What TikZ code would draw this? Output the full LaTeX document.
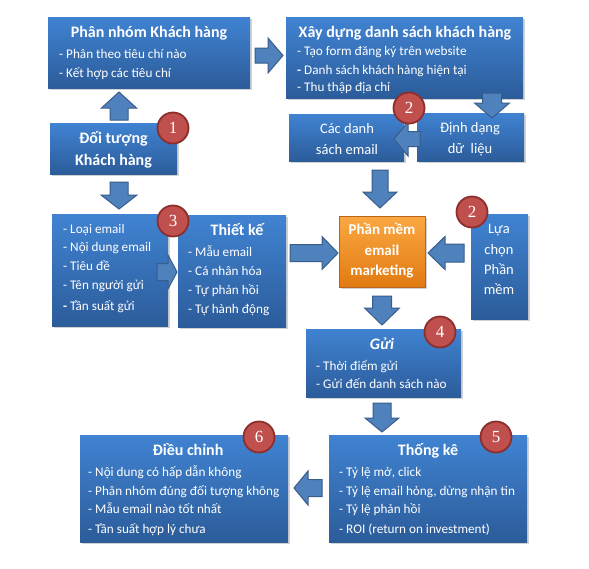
\documentclass[tikz,border=0pt]{standalone}
\usepackage{fontspec}
\setmainfont{Carlito}
\newfontfamily\numfont{Liberation Serif}
\usetikzlibrary{shadows}
\definecolor{boxtop}{HTML}{4083D2}
\definecolor{boxbot}{HTML}{2C5C9A}
\definecolor{ortop}{HTML}{FAA842}
\definecolor{orbot}{HTML}{E27A12}
\definecolor{oredge}{HTML}{B8661C}
\definecolor{arrfill}{HTML}{4F81BD}
\definecolor{arredge}{HTML}{385D8A}
\definecolor{badgefill}{HTML}{C0504D}
\definecolor{badgeedge}{HTML}{8C2E2B}
\newcommand{\blkarrow}[7]{\begin{scope}[shift={(#1,#2)},rotate=#3]\draw[blk] (0,0) -- (-#5,#7) -- (-#5,#6) -- (-#4,#6) -- (-#4,-#6) -- (-#5,-#6) -- (-#5,-#7) -- cycle;\end{scope}}
\tikzset{
 box/.style={rectangle, draw=none, inner sep=0pt, top color=boxtop, bottom color=boxbot,
   drop shadow={shadow xshift=1.5pt, shadow yshift=-2pt, opacity=0.35}},
 obox/.style={rectangle, draw=oredge, line width=0.6pt, inner sep=0pt, top color=ortop, bottom color=orbot,
   drop shadow={shadow xshift=1.5pt, shadow yshift=-2pt, opacity=0.35}},
 blk/.style={fill=arrfill, draw=arredge, line width=1pt, line join=miter},
 badge/.style={circle, minimum size=31pt, inner sep=0pt, fill=badgefill, draw=badgeedge, line width=1.8pt,
   text=white, font=\numfont\fontsize{17}{17}\selectfont},
 txt/.style={text=white, font=\fontsize{13.2}{15}\selectfont, inner sep=0pt, anchor=mid west, yshift=-2.5pt},
 ctxt/.style={text=white, font=\fontsize{14.5}{17}\selectfont, inner sep=0pt, anchor=mid, yshift=-2.5pt},
 ttl/.style={text=white, font=\bfseries\fontsize{16}{19}\selectfont, inner sep=0pt, anchor=mid, yshift=-2.5pt},
 otl/.style={text=white, font=\bfseries\fontsize{15}{18}\selectfont, inner sep=0pt, anchor=mid, yshift=-2.5pt},
}
\begin{document}
\begin{tikzpicture}[x=1pt,y=-1pt]
\fill[white] (0,0) rectangle (589,568);
\useasboundingbox (0,0) rectangle (589,568);
% boxes
\node[box, minimum width=202pt, minimum height=71pt] (b1) at (149,52.5) {};
\node[box, minimum width=237pt, minimum height=81pt] (b2) at (404.5,57.5) {};
\node[box, minimum width=127pt, minimum height=51pt] (b3) at (113.5,148.5) {};
\node[box, minimum width=115pt, minimum height=47pt] (b4) at (346.5,137.5) {};
\node[box, minimum width=107pt, minimum height=48pt] (b5) at (470.5,137) {};
\node[box, minimum width=116pt, minimum height=112pt] (b6) at (110,270) {};
\node[box, minimum width=108pt, minimum height=112pt] (b7) at (232,271) {};
\node[obox, minimum width=86pt, minimum height=71pt] (b8) at (382,251.5) {};
\node[box, minimum width=57pt, minimum height=105pt] (b9) at (499.5,266.5) {};
\node[box, minimum width=155pt, minimum height=68pt] (b10) at (383.5,363) {};
\node[box, minimum width=208pt, minimum height=107pt] (b11) at (184,488.5) {};
\node[box, minimum width=198pt, minimum height=107pt] (b12) at (428,488.5) {};
% texts
\node[ttl] (t1) at (149,33) {Phân nhóm Khách hàng};
\node[txt] (t1a) at (59,54) {- Phân theo tiêu chí nào};
\node[txt] (t1b) at (59,73) {- Kết hợp các tiêu chí};
\node[ttl] (t2) at (405,33) {Xây dựng danh sách khách hàng};
\node[txt] (t2a) at (297,51) {- Tạo form đăng ký trên website};
\node[txt] (t2b) at (297,70) {\textbf{-} Danh sách khách hàng hiện tại};
\node[txt] (t2c) at (297,87) {- Thu thập địa chỉ};
\node[ttl] (t3a) at (113.5,139) {Đối tượng};
\node[ttl] (t3b) at (113.5,161) {Khách hàng};
\node[ctxt] (t4a) at (347,129) {Các danh};
\node[ctxt] (t4b) at (347,150) {sách email};
\node[ctxt] (t5a) at (470,128) {Định dạng};
\node[ctxt] (t5b) at (470,149) {dữ\ \ liệu};
\node[txt] (t6a) at (63,229) {- Loại email};
\node[txt] (t6b) at (63,247) {- Nội dung email};
\node[txt] (t6c) at (63,266) {- Tiêu đề};
\node[txt] (t6d) at (63,285) {- Tên người gửi};
\node[txt] (t6e) at (63,306) {\textbf{-}\ Tần suất gửi};
\node[ttl] (t7) at (237,231) {Thiết kế};
\node[txt] (t7a) at (188,252) {- Mẫu email};
\node[txt] (t7b) at (188,271) {- Cá nhân hóa};
\node[txt] (t7c) at (188,290) {- Tự phản hồi};
\node[txt] (t7d) at (188,309) {- Tự hành động};
\node[otl] (t8a) at (382,230) {Phần mềm};
\node[otl] (t8b) at (382,251) {email};
\node[otl] (t8c) at (382,271) {marketing};
\node[ctxt] (t9a) at (499,229) {Lựa};
\node[ctxt] (t9b) at (499,250) {chọn};
\node[ctxt] (t9c) at (499,270) {Phần};
\node[ctxt] (t9d) at (499,290) {mềm};
\node[ttl, font=\bfseries\itshape\fontsize{16}{19}\selectfont] (t10) at (382,345) {Gửi};
\node[txt] (t10a) at (316,366) {- Thời điểm gửi};
\node[txt] (t10b) at (316,384) {- Gửi đến danh sách nào};
\node[ttl] (t11) at (188,451) {Điều chỉnh};
\node[txt] (t11a) at (88,472) {- Nội dung có hấp dẫn không};
\node[txt] (t11b) at (88,491) {- Phân nhóm đúng đối tượng không};
\node[txt] (t11c) at (88,509) {- Mẫu email nào tốt nhất};
\node[txt] (t11d) at (88,529) {- Tần suất hợp lý chưa};
\node[ttl] (t12) at (428,451) {Thống kê};
\node[txt] (t12a) at (339,472) {- Tỷ lệ mở, click};
\node[txt] (t12b) at (339,491) {- Tỷ lệ email hỏng, dừng nhận tin};
\node[txt] (t12c) at (339,509) {- Tỷ lệ phản hồi};
\node[txt] (t12d) at (339,529) {- ROI (return on investment)};
% block arrows
\blkarrow{283}{55.5}{0}{28}{15}{7.5}{17.5}
\blkarrow{119}{92}{90}{28}{16}{9}{17.5}
\blkarrow{119}{209}{-90}{27}{14}{9}{18}
\blkarrow{492}{118}{-90}{25}{15}{9.5}{17.5}
\blkarrow{394}{139}{180}{26}{14}{7.5}{17}
\blkarrow{380}{208}{-90}{38}{16}{8}{17}
\blkarrow{338}{253}{0}{48}{16}{8.5}{16.5}
\blkarrow{428}{253}{180}{36}{17}{9}{16.5}
\blkarrow{177}{272}{0}{20}{9}{8.5}{17}
\blkarrow{382}{325}{-90}{29}{17}{9.5}{17.5}
\blkarrow{382}{432}{-90}{29}{14}{9}{17}
\blkarrow{294}{488}{180}{28}{14}{8.5}{17}
% badges
\node[badge] (n1) at (173,128) {1};
\node[badge] (n2a) at (409,108) {2};
\node[badge] (n3) at (173,221) {3};
\node[badge] (n2b) at (472,212) {2};
\node[badge] (n4) at (440,332) {4};
\node[badge] (n6) at (259,437) {6};
\node[badge] (n5) at (496,437) {5};
\end{tikzpicture}
\end{document}
